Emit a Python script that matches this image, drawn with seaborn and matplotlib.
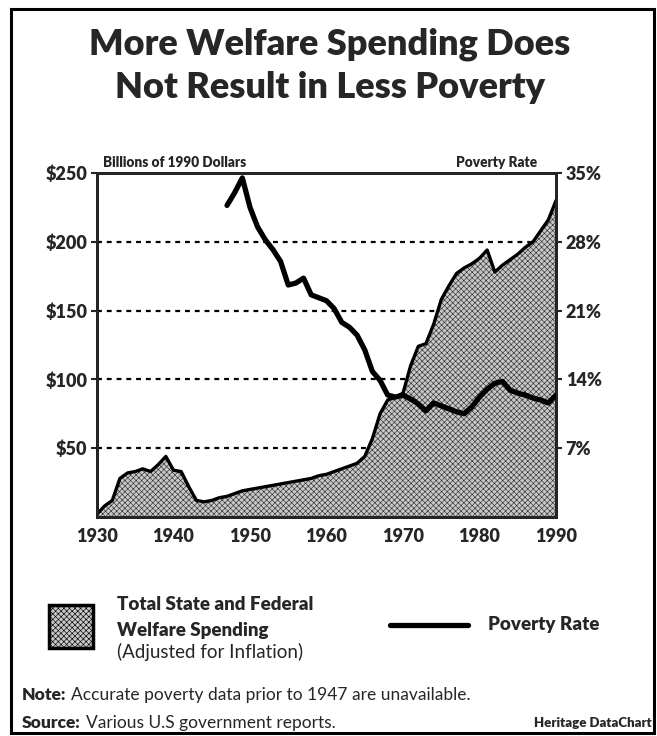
import numpy as np
import pandas as pd
import seaborn as sns
import matplotlib.pyplot as plt
from matplotlib.patches import Rectangle
from matplotlib.lines import Line2D

sns.set_style("white")
plt.rcParams['font.family'] = ['Lato', 'DejaVu Sans']

# welfare spending, billions of 1990 dollars, 1930-1990
years = list(range(1930, 1991))
spending = [2, 8, 12, 28, 32, 33, 35, 33, 38, 44,
            34, 33, 22, 12, 11, 12, 14, 15, 17, 19,
            20, 21, 22, 23, 24, 25, 26, 27, 28, 30,
            31, 33, 35, 37, 39, 44, 57, 75, 85, 87,
            90, 110, 124, 126, 140, 158, 168, 177, 181, 184,
            188, 194, 178, 183, 187, 191, 196, 200, 208, 216,
            230]

# poverty rate (%), 1947-1990
pov_years = list(range(1947, 1991))
poverty = [31.7, 33.0, 34.5, 31.5, 29.5, 28.2, 27.2, 26.0, 23.6, 23.8,
           24.3, 22.6, 22.3, 22.0, 21.2, 19.8, 19.3, 18.5, 17.0, 14.8,
           13.9, 12.4, 12.2, 12.4, 12.0, 11.5, 10.8, 11.6, 11.3, 11.0,
           10.7, 10.5, 11.2, 12.2, 13.0, 13.6, 13.8, 12.9, 12.6, 12.4,
           12.1, 11.9, 11.6, 12.4]

left_ticks = [50, 100, 150, 200, 250]
left_labels = ["$50", "$100", "$150", "$200", "$250"]
right_ticks = [7, 14, 21, 28, 35]
right_labels = ["7%", "14%", "21%", "28%", "35%"]
x_ticks = [1930, 1940, 1950, 1960, 1970, 1980, 1990]

sp = pd.DataFrame({"year": years, "spending": spending})
pv = pd.DataFrame({"year": pov_years, "poverty": poverty})

HEAVY = 'heavy'

fig = plt.figure(figsize=(6.57, 7.36), dpi=100)
ax = fig.add_axes([0.1476, 0.2976, 0.6987, 0.4674])

# dotted grid behind the area
for t in left_ticks[:-1]:
    ax.axhline(t, color='black', lw=1.6, ls=(0, (2.2, 2.2)), zorder=1)

plt.rcParams['hatch.linewidth'] = 0.45
ax.fill_between(sp["year"], 0, sp["spending"], facecolor='#c8c8c8',
                hatch='xxxxxx', edgecolor='#333333', lw=0, zorder=2)
sns.lineplot(data=sp, x="year", y="spending", ax=ax, color='black', lw=2.4, zorder=3)

ax.set_xlim(1930, 1990)
ax.set_ylim(0, 250)
ax.set_xticks(x_ticks)
ax.set_xticks(range(1930, 1991, 2), minor=True)
ax.set_xticklabels([str(x) for x in x_ticks], fontsize=13, fontweight=HEAVY)
ax.set_yticks(left_ticks)
ax.set_yticklabels(left_labels, fontsize=13, fontweight=HEAVY)
ax.tick_params(axis='x', which='both', direction='in', length=9, width=2, pad=8)
ax.tick_params(axis='y', direction='out', length=4, width=1.5, pad=3)
ax.set_xlabel("")
ax.set_ylabel("")
for s in ax.spines.values():
    s.set_linewidth(2)
    s.set_color('black')

ax2 = ax.twinx()
sns.lineplot(data=pv, x="year", y="poverty", ax=ax2, color='black', lw=3.8, zorder=4)
ax2.set_ylim(0, 35)
ax2.set_yticks(right_ticks)
ax2.set_yticklabels(right_labels, fontsize=13, fontweight=HEAVY)
ax2.tick_params(axis='y', direction='out', length=4, width=1.5, pad=3)
ax2.set_ylabel("")
for s in ax2.spines.values():
    s.set_linewidth(2)

ax.text(0.013, 1.012, "Billions of 1990 Dollars", transform=ax.transAxes,
        fontsize=9.8, fontweight=HEAVY, ha='left', va='bottom')
ax.text(0.959, 1.012, "Poverty Rate", transform=ax.transAxes,
        fontsize=9.8, fontweight=HEAVY, ha='right', va='bottom')

fig.text(0.502, 0.926, "More Welfare Spending Does", fontsize=26,
         fontweight=HEAVY, ha='center', va='baseline')
fig.text(0.502, 0.867, "Not Result in Less Poverty", fontsize=26,
         fontweight=HEAVY, ha='center', va='baseline')

# legend
fig.patches.append(Rectangle((0.074, 0.120), 0.068, 0.058, transform=fig.transFigure,
                             facecolor='#c8c8c8', hatch='xxxxxx', edgecolor='black', lw=2.5))
fig.text(0.178, 0.178, "Total State and Federal", fontsize=13.5, fontweight=HEAVY, va='center')
fig.text(0.178, 0.144, "Welfare Spending", fontsize=13.5, fontweight=HEAVY, va='center')
fig.text(0.178, 0.114, "(Adjusted for Inflation)", fontsize=13.5, va='center')
fig.lines.append(Line2D([0.594, 0.712], [0.151, 0.151], transform=fig.transFigure,
                        color='black', lw=3.8, solid_capstyle='round'))
fig.text(0.743, 0.151, "Poverty Rate", fontsize=13.5, fontweight=HEAVY, va='center')

fig.text(0.033, 0.056, "Note:", fontsize=12.5, fontweight=HEAVY, va='center')
fig.text(0.108, 0.056, "Accurate poverty data prior to 1947 are unavailable.",
         fontsize=12.5, va='center')
fig.text(0.033, 0.018, "Source:", fontsize=12.5, fontweight=HEAVY, va='center')
fig.text(0.131, 0.018, "Various U.S government reports.", fontsize=12.5, va='center')
fig.text(0.992, 0.018, "Heritage DataChart", fontsize=9.5, fontweight=HEAVY,
         ha='right', va='center')

fig.patches.append(Rectangle((0.0167, 0.004), 0.9787, 0.9838, transform=fig.transFigure,
                             fill=False, edgecolor='black', lw=2.2))

fig.savefig("out.png", dpi=100)
